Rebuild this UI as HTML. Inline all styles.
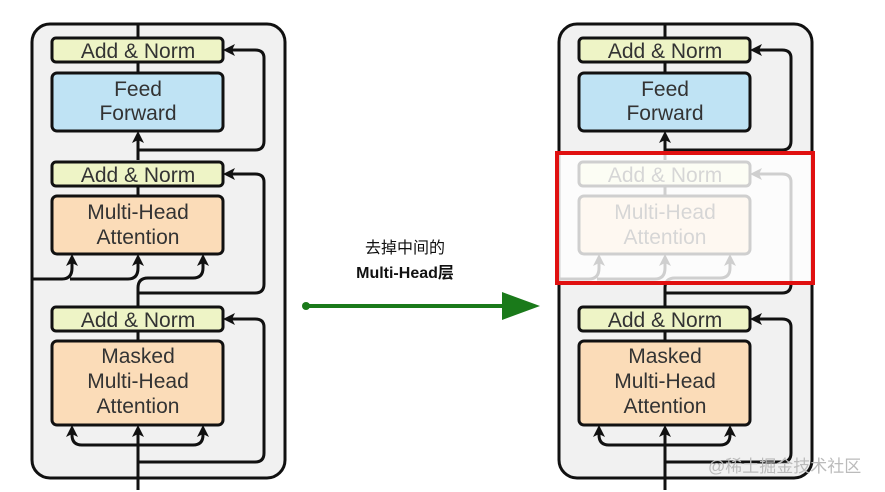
<!DOCTYPE html>
<html><head><meta charset="utf-8"><style>
html,body{margin:0;padding:0;background:#fff;}
svg{display:block;}
text{font-family:"Liberation Sans","Noto Sans CJK SC",sans-serif;}
</style></head><body>
<svg width="885" height="492" viewBox="0 0 885 492" xmlns="http://www.w3.org/2000/svg">
<defs>
<marker id="ah" markerWidth="12" markerHeight="12" refX="9" refY="6" orient="auto" markerUnits="userSpaceOnUse">
<path d="M0,0 L12,6 L0,12 L3,6 z" fill="#111"/>
</marker>
<g id="dia">
  <rect x="32" y="24" width="253" height="454" rx="18" fill="#f1f1f1" stroke="#111" stroke-width="3"/>
  <path d="M138,24 V38 M138,62 V73" fill="none" stroke="#111" stroke-width="3"/>
  <path d="M138,160 V134" fill="none" stroke="#111" stroke-width="3" marker-end="url(#ah)"/>
  <path d="M138,186 V196" stroke="#111" stroke-width="3"/>
  <path d="M138,307 V290" stroke="#111" stroke-width="3"/>
  <path d="M138,331 V341" stroke="#111" stroke-width="3"/>
  <path d="M138,490 V428" fill="none" stroke="#111" stroke-width="3" marker-end="url(#ah)"/>
  <path d="M138,150 H255 Q264,150 264,141 V58 Q264,50 255,50 H226" fill="none" stroke="#111" stroke-width="3" marker-end="url(#ah)"/>
  <path d="M138,293 H255 Q264,293 264,284 V182 Q264,174 255,174 H226" fill="none" stroke="#111" stroke-width="3" marker-end="url(#ah)"/>
  <path d="M138,462 H255 Q264,462 264,453 V327 Q264,319 255,319 H226" fill="none" stroke="#111" stroke-width="3" marker-end="url(#ah)"/>
  <path d="M32,279 H62 Q72,279 72,268 V257" fill="none" stroke="#111" stroke-width="3" marker-end="url(#ah)"/>
  <path d="M70,279 H128 Q138,279 138,268 V257" fill="none" stroke="#111" stroke-width="3" marker-end="url(#ah)"/>
  <path d="M138,296 V288 Q138,278 148,278 H193 Q203,278 203,268 V257" fill="none" stroke="#111" stroke-width="3" marker-end="url(#ah)"/>
  <path d="M138,445 H82 Q72,445 72,435 V428" fill="none" stroke="#111" stroke-width="3" marker-end="url(#ah)"/>
  <path d="M138,445 H193 Q203,445 203,435 V428" fill="none" stroke="#111" stroke-width="3" marker-end="url(#ah)"/>
  <rect x="52" y="38" width="171" height="24" rx="4" fill="#eef4c6" stroke="#111" stroke-width="3"/>
  <text x="138" y="58" font-size="21" text-anchor="middle" fill="#333">Add &amp; Norm</text>
  <rect x="52" y="73" width="171" height="58" rx="5" fill="#bfe3f4" stroke="#111" stroke-width="3"/>
  <text x="138" y="96" font-size="21" text-anchor="middle" fill="#333">Feed</text>
  <text x="138" y="120" font-size="21" text-anchor="middle" fill="#333">Forward</text>
  <rect x="52" y="162" width="171" height="24" rx="4" fill="#eef4c6" stroke="#111" stroke-width="3"/>
  <text x="138" y="182" font-size="21" text-anchor="middle" fill="#333">Add &amp; Norm</text>
  <rect x="52" y="196" width="171" height="58" rx="5" fill="#fbdcb8" stroke="#111" stroke-width="3"/>
  <text x="138" y="219" font-size="21" text-anchor="middle" fill="#333">Multi-Head</text>
  <text x="138" y="244" font-size="21" text-anchor="middle" fill="#333">Attention</text>
  <rect x="52" y="307" width="171" height="24" rx="4" fill="#eef4c6" stroke="#111" stroke-width="3"/>
  <text x="138" y="327" font-size="21" text-anchor="middle" fill="#333">Add &amp; Norm</text>
  <rect x="52" y="341" width="171" height="84" rx="5" fill="#fbdcb8" stroke="#111" stroke-width="3"/>
  <text x="138" y="363" font-size="21" text-anchor="middle" fill="#333">Masked</text>
  <text x="138" y="388" font-size="21" text-anchor="middle" fill="#333">Multi-Head</text>
  <text x="138" y="413" font-size="21" text-anchor="middle" fill="#333">Attention</text>
</g>
</defs>
<use href="#dia"/>
<g transform="translate(527,0)"><use href="#dia"/></g>
<rect x="557" y="153" width="256" height="130" fill="#fff" fill-opacity="0.8"/>
<rect x="557" y="153" width="256" height="130" fill="none" stroke="#e01010" stroke-width="4"/>
<line x1="306" y1="306" x2="505" y2="306" stroke="#1a7a1a" stroke-width="4"/>
<circle cx="306" cy="306" r="4" fill="#1a7a1a"/>
<polygon points="502,292 540,306 502,320" fill="#1a7a1a"/>
<text x="405" y="253" font-size="16" text-anchor="middle" fill="#111">去掉中间的</text>
<text x="405" y="278" font-size="16" font-weight="bold" text-anchor="middle" fill="#111">Multi-Head层</text>
<text x="708" y="472" font-size="17" fill="#bbb">@稀土掘金技术社区</text>
</svg>
</body></html>
